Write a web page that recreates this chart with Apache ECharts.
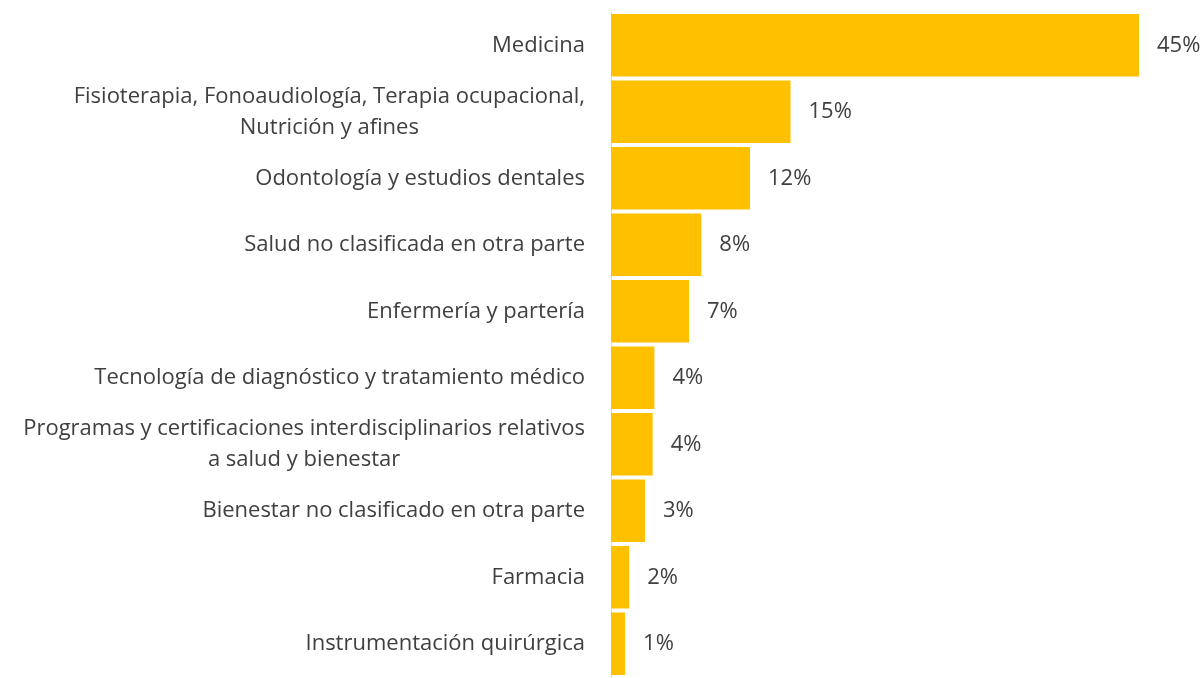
<!DOCTYPE html>
<html>
<head>
<meta charset="utf-8">
<script src="https://cdn.jsdelivr.net/npm/echarts@6/dist/echarts.min.js"></script>
<style>
  html, body { margin: 0; padding: 0; background: #fff; }
  #chart { width: 1204px; height: 678px; }
</style>
</head>
<body>
<div id="chart"></div>
<script>
// categories, top to bottom
const categories = [
  'Medicina',
  'Fisioterapia, Fonoaudiología, Terapia ocupacional,\nNutrición y afines',
  'Odontología y estudios dentales',
  'Salud no clasificada en otra parte',
  'Enfermería y partería',
  'Tecnología de diagnóstico y tratamiento médico',
  'Programas y certificaciones interdisciplinarios relativos\na salud y bienestar',
  'Bienestar no clasificado en otra parte',
  'Farmacia',
  'Instrumentación quirúrgica'
];
// share in %
const values = [45, 15.3, 11.85, 7.7, 6.65, 3.7, 3.55, 2.9, 1.55, 1.2];
// printed labels
const valueLabels = ['45%', '15%', '12%', '8%', '7%', '4%', '4%', '3%', '2%', '1%'];

const FONT = 'Open Sans';
const FS = 22;
const chart = echarts.init(document.getElementById('chart'));
chart.setOption({
  animation: false,
  grid: { left: 611, right: 65, top: 12, bottom: 1 },
  xAxis: {
    type: 'value',
    min: 0,
    max: 45,
    show: false
  },
  yAxis: {
    type: 'category',
    inverse: true,
    data: categories,
    axisLine: { show: true, lineStyle: { color: '#d9d9d9', width: 1 } },
    axisTick: { show: false },
    axisLabel: {
      margin: 26,
      color: '#404040',
      fontFamily: FONT,
      fontSize: FS,
      lineHeight: 31,
      formatter: function (v) {
        return v.split('\n').map(function (s) { return '{c|' + s + '}'; }).join('\n');
      },
      rich: {
        c: { align: 'center', color: '#404040', fontFamily: FONT, fontSize: FS, lineHeight: 31 }
      }
    }
  },
  series: [{
    type: 'bar',
    data: values,
    barCategoryGap: '6%',
    itemStyle: { color: '#ffc000' },
    label: {
      show: true,
      position: 'right',
      distance: 18,
      color: '#404040',
      fontFamily: FONT,
      fontSize: FS,
      formatter: function (p) { return valueLabels[p.dataIndex]; }
    }
  }]
});
</script>
</body>
</html>
